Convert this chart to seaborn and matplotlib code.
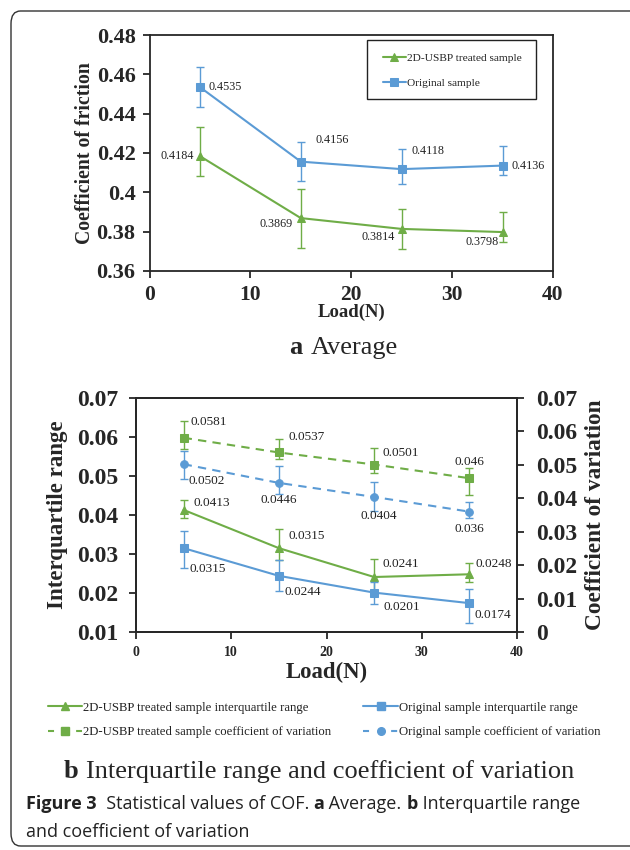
import matplotlib
matplotlib.use("Agg")
import matplotlib.pyplot as plt
import seaborn as sns
import numpy as np
import pandas as pd
from matplotlib.patches import FancyBboxPatch, Rectangle
from matplotlib.lines import Line2D

# ---------------- data ----------------
load = [5, 15, 25, 35]

cof_treated = [0.4184, 0.3869, 0.3814, 0.3798]
cof_treated_err_lo = [0.0099, 0.015, 0.010, 0.005]
cof_treated_err_hi = [0.015, 0.015, 0.010, 0.010]
cof_original = [0.4535, 0.4156, 0.4118, 0.4136]
cof_original_err_lo = [0.010, 0.010, 0.0077, 0.005]
cof_original_err_hi = [0.010, 0.010, 0.010, 0.010]

iqr_treated = [0.0413, 0.0315, 0.0241, 0.0248]
iqr_treated_err_lo = [0.002, 0.003, 0.004, 0.002]
iqr_treated_err_hi = [0.0026, 0.005, 0.0047, 0.003]
iqr_original = [0.0315, 0.0244, 0.0201, 0.0174]
iqr_original_err_lo = [0.005, 0.004, 0.003, 0.005]
iqr_original_err_hi = [0.0045, 0.0041, 0.0026, 0.0036]

cv_treated = [0.0581, 0.0537, 0.0501, 0.046]
cv_treated_err_lo = [0.0033, 0.002, 0.0025, 0.005]
cv_treated_err_hi = [0.005, 0.004, 0.005, 0.003]
cv_original = [0.0502, 0.0446, 0.0404, 0.036]
cv_original_err_lo = [0.0045, 0.0032, 0.0043, 0.002]
cv_original_err_hi = [0.004, 0.005, 0.0046, 0.003]

cof_yticks = [0.36, 0.38, 0.40, 0.42, 0.44, 0.46, 0.48]
cof_yticklabels = ["0.36", "0.38", "0.4", "0.42", "0.44", "0.46", "0.48"]
iqr_yticks = [0.01, 0.02, 0.03, 0.04, 0.05, 0.06, 0.07]
iqr_yticklabels = ["0.01", "0.02", "0.03", "0.04", "0.05", "0.06", "0.07"]
cv_yticks = [0, 0.01, 0.02, 0.03, 0.04, 0.05, 0.06, 0.07]
cv_yticklabels = ["0", "0.01", "0.02", "0.03", "0.04", "0.05", "0.06", "0.07"]
xticks = [0, 10, 20, 30, 40]

# ---------------- style ----------------
sns.set_style("ticks")
plt.rcParams["font.family"] = ["Liberation Serif", "DejaVu Serif"]
plt.rcParams["axes.linewidth"] = 1.3
plt.rcParams["xtick.major.width"] = 1.3
plt.rcParams["ytick.major.width"] = 1.3
plt.rcParams["xtick.major.size"] = 5
plt.rcParams["ytick.major.size"] = 5
plt.rcParams["xtick.direction"] = "out"
plt.rcParams["ytick.direction"] = "out"

GREEN = "#6FAD47"
BLUE = "#5B9BD5"
TXT = "#222222"
W, H = 630, 850

fig = plt.figure(figsize=(6.3, 8.5), dpi=100)

# frame
frame = FancyBboxPatch((11 / W, 4 / H), 700 / W, (H - 15) / H,
                       boxstyle="round,pad=0,rounding_size=0.015",
                       transform=fig.transFigure, fill=False,
                       edgecolor="#333333", linewidth=1.0)
fig.patches.append(frame)


def pax(l, t, r, b):
    return fig.add_axes([l / W, 1 - b / H, (r - l) / W, (b - t) / H])


def draw_series(ax, y, lo, hi, color, marker, ms, label, dashed=False):
    sns.lineplot(x=load, y=y, ax=ax, color=color, marker=marker,
                 markersize=ms, markeredgecolor=color, linewidth=1.5,
                 label=label, legend=False,
                 linestyle=(0, (4, 3)) if dashed else "-")
    ax.errorbar(load, y, yerr=[lo, hi], fmt="none", ecolor=color,
                elinewidth=1.0, capsize=3, capthick=1.0)


def labels(ax, y, offs, fs=9):
    for xv, yv, (dx, dy, h) in zip(load, y, offs):
        ax.annotate(str(yv), (xv, yv), xytext=(dx, dy),
                    textcoords="offset pixels", ha=h, va="center",
                    fontsize=fs, color=TXT)


# ---------------- panel a ----------------
ax1 = pax(149.5, 35, 553, 271)
draw_series(ax1, cof_treated, cof_treated_err_lo, cof_treated_err_hi,
            GREEN, "^", 6, "2D-USBP treated sample")
draw_series(ax1, cof_original, cof_original_err_lo, cof_original_err_hi,
            BLUE, "s", 6, "Original sample")
ax1.set_xlim(0, 40)
ax1.set_ylim(0.36, 0.48)
ax1.set_xticks(xticks)
ax1.set_xticklabels([str(v) for v in xticks], fontsize=15.5, fontweight="bold")
ax1.set_yticks(cof_yticks)
ax1.set_yticklabels(cof_yticklabels, fontsize=16, fontweight="bold")
ax1.tick_params(axis="both", pad=5)
ax1.set_xlabel("Load(N)", fontsize=13.5, fontweight="bold", labelpad=-1)
ax1.set_ylabel("Coefficient of friction", fontsize=14.2, fontweight="bold",
               labelpad=1)
labels(ax1, cof_treated, [(-6, 0, "right"), (-8, -6, "right"),
                          (-7, -8, "right"), (-4, -10, "right")], fs=8.7)
labels(ax1, cof_original, [(9, 0, "left"), (15, 22, "left"),
                           (10, 18, "left"), (9, 0, "left")], fs=8.7)
# legend box drawn separately for exact placement
ax1.add_patch(Rectangle((367 / W, 1 - 99 / H), 169 / W, 59 / H,
                        transform=fig.transFigure, fill=False,
                        edgecolor=TXT, linewidth=1.0, zorder=5,
                        clip_on=False))
leg1 = ax1.legend(loc="center left",
                  bbox_to_anchor=(383 / W, 1 - 70.5 / H),
                  bbox_transform=fig.transFigure,
                  frameon=False, fontsize=8.2, borderpad=0, borderaxespad=0,
                  handlelength=2.0, handletextpad=0.1, labelspacing=1.4)
for t in leg1.get_texts():
    t.set_color(TXT)

# ---------------- panel b ----------------
ax2 = pax(136, 398, 517, 632)
ax2r = ax2.twinx()
draw_series(ax2, iqr_treated, iqr_treated_err_lo, iqr_treated_err_hi,
            GREEN, "^", 6, "2D-USBP treated sample interquartile range")
draw_series(ax2, iqr_original, iqr_original_err_lo, iqr_original_err_hi,
            BLUE, "s", 6, "Original sample interquartile range")
draw_series(ax2r, cv_treated, cv_treated_err_lo, cv_treated_err_hi,
            GREEN, "s", 6, "2D-USBP treated sample coefficient of variation",
            dashed=True)
draw_series(ax2r, cv_original, cv_original_err_lo, cv_original_err_hi,
            BLUE, "o", 5.5, "Original sample coefficient of variation",
            dashed=True)
ax2.set_xlim(0, 40)
ax2.set_ylim(0.01, 0.07)
ax2r.set_ylim(0, 0.07)
ax2.set_xticks(xticks)
ax2.set_xticklabels([str(v) for v in xticks], fontsize=10, fontweight="bold")
ax2.set_yticks(iqr_yticks)
ax2.set_yticklabels(iqr_yticklabels, fontsize=17, fontweight="bold")
ax2r.set_yticks(cv_yticks)
ax2r.set_yticklabels(cv_yticklabels, fontsize=17, fontweight="bold")
ax2.tick_params(axis="y", pad=8)
ax2r.tick_params(axis="y", pad=9)
ax2.tick_params(axis="x", pad=5)
ax2.set_xlabel("Load(N)", fontsize=16.4, fontweight="bold", labelpad=2)
ax2.set_ylabel("Interquartile range", fontsize=16.5, fontweight="bold",
               labelpad=6)
ax2r.set_ylabel("Coefficient of variation", fontsize=16.8, fontweight="bold",
                labelpad=5)
ax2r.spines["right"].set_visible(True)
ax2r.spines["top"].set_visible(True)

labels(ax2r, cv_treated, [(7, 16, "left"), (10, 15, "left"),
                          (8, 12, "left"), (0, 16, "center")], fs=9.5)
labels(ax2r, cv_original, [(5, -17, "left"), (0, -17, "center"),
                           (5, -19, "center"), (0, -17, "center")], fs=9.5)
labels(ax2, iqr_treated, [(10, 7, "left"), (10, 12, "left"),
                          (8, 13, "left"), (6, 10, "left")], fs=9.5)
labels(ax2, iqr_original, [(6, -21, "left"), (6, -16, "left"),
                           (9, -14, "left"), (5, -12, "left")], fs=9.5)

h1, l1 = ax2.get_legend_handles_labels()
h2, l2 = ax2r.get_legend_handles_labels()


def proxy(src):
    ls = src.get_linestyle()
    return Line2D([], [], color=src.get_color(), marker=src.get_marker(),
                  markersize=src.get_markersize(),
                  markeredgecolor=src.get_markeredgecolor(), linewidth=1.5,
                  linestyle=(0, (2.9, 10.6)) if ls != "-" else "-")


handles = [proxy(h1[0]), proxy(h2[0]), proxy(h1[1]), proxy(h2[1])]
labs = [l1[0], l2[0], l1[1], l2[1]]
leg2 = fig.legend(handles, labs, loc="upper left", ncol=2,
                  bbox_to_anchor=(36 / W, 1 - 690 / H), frameon=False,
                  fontsize=9.2, handlelength=2.7, handletextpad=0.1,
                  columnspacing=2.5, labelspacing=1.0)
for t in leg2.get_texts():
    t.set_color(TXT)

# ---------------- titles / caption ----------------
renderer = fig.canvas.get_renderer()


def runs(x, y, parts, ha="left"):
    """parts: list of (text, fontdict). x,y in pixels from top-left."""
    objs = []
    for txt, kw in parts:
        objs.append(fig.text(0, 0, txt, va="baseline", **kw))
    widths = [o.get_window_extent(renderer).width for o in objs]
    total = sum(widths)
    cx = x - total / 2 if ha == "center" else x
    for o, w in zip(objs, widths):
        o.set_position((cx / W, 1 - y / H))
        cx += w


serif_b = dict(family=["Liberation Serif"], fontweight="bold", fontsize=19)
serif_n = dict(family=["Liberation Serif"], fontweight="normal", fontsize=19)
runs(344, 354, [("a ", serif_b), ("Average", serif_n)], ha="center")
runs(319, 778, [("b ", serif_b),
                ("Interquartile range and coefficient of variation", serif_n)],
     ha="center")

cap_b = dict(family=["Open Sans"], fontweight="bold", fontsize=13.0,
             color=TXT)
cap_n = dict(family=["Open Sans"], fontweight="normal", fontsize=13.0,
             color=TXT)
runs(26, 809, [("Figure 3", cap_b), ("  Statistical values of COF. ", cap_n),
               ("a", cap_b), (" Average. ", cap_n), ("b", cap_b),
               (" Interquartile range", cap_n)])
runs(26, 837, [("and coefficient of variation", cap_n)])

fig.savefig("out.png", dpi=100)
